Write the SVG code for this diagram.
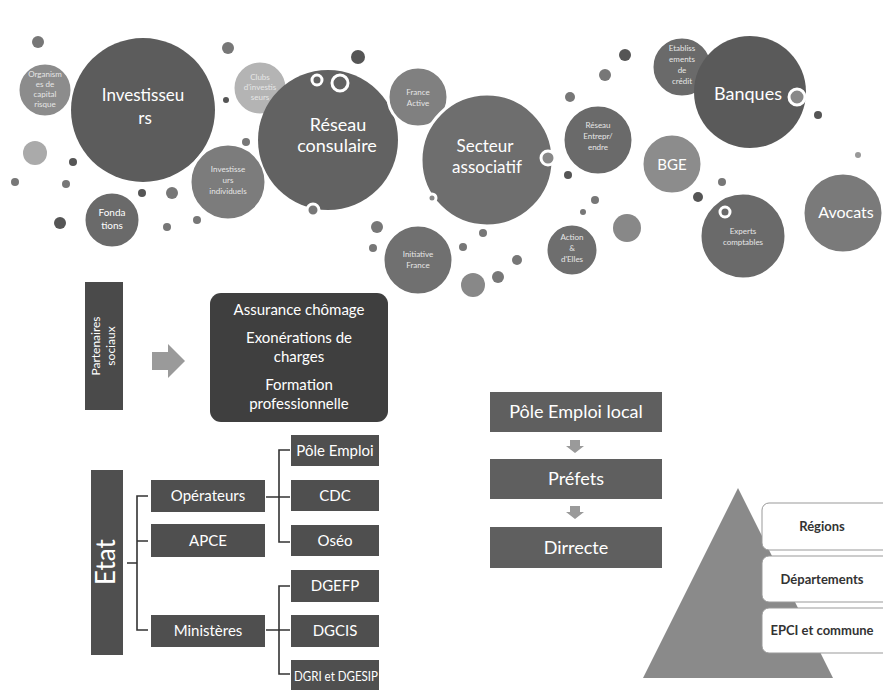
<svg xmlns="http://www.w3.org/2000/svg" width="883" height="690" viewBox="0 0 883 690">
<style>
text{font-family:Lato,"Open Sans","Liberation Sans",sans-serif;fill:#fff;text-anchor:middle}
.big{font-size:17px}
.sm{font-size:8px;fill:#e6e6e6}
.ring{fill:none;stroke:#fff;stroke-width:3}
.bw{stroke:#fff;stroke-width:3}
.box{fill:#4f4f4f}
.bt{font-size:15px}
.ft{font-size:18px}
.pt{font-size:13px;fill:#333;font-weight:bold}
.ln{fill:none;stroke:#333;stroke-width:1.6}
.dot{fill:#777}
.dk{fill:#555}
</style>
<rect width="883" height="690" fill="#fff"/>

<g id="dots">
<circle class="dot" cx="38" cy="42" r="6"/>
<circle class="dot" cx="228" cy="48" r="6"/>
<circle class="dk" cx="226" cy="100" r="3"/>
<circle class="dot" cx="246" cy="142" r="4"/>
<circle fill="#aaa" cx="35" cy="153" r="12"/>
<circle class="dk" cx="73" cy="162" r="4"/>
<circle class="dot" cx="15" cy="182" r="4"/>
<circle class="dot" cx="66" cy="184" r="4"/>
<circle class="dk" cx="142" cy="193" r="4"/>
<circle class="dot" cx="172" cy="193" r="6"/>
<circle class="dk" cx="60" cy="223" r="6"/>
<circle class="dot" cx="167" cy="227" r="4"/>
<circle class="dot" cx="197" cy="220" r="4"/>
<circle class="dk" cx="358" cy="57" r="7"/>
<circle class="dot" cx="377" cy="227" r="6"/>
<circle class="dot" cx="373" cy="248" r="4"/>
<circle class="dot" cx="483" cy="233" r="4"/>
<circle class="dot" cx="463" cy="247" r="4"/>
<circle class="dot" cx="517" cy="260" r="5"/>
<circle class="dot" cx="498" cy="277" r="6"/>
<circle fill="#888" cx="473" cy="285" r="12"/>
<circle class="dk" cx="568" cy="175" r="4"/>
<circle class="dot" cx="595" cy="200" r="4"/>
<circle class="dot" cx="583" cy="212" r="3"/>
<circle fill="#888" cx="627" cy="228" r="14"/>
<circle class="dk" cx="625" cy="55" r="6"/>
<circle class="dot" cx="605" cy="75" r="6"/>
<circle class="dot" cx="570" cy="97" r="5"/>
<circle class="dk" cx="818" cy="115" r="4"/>
<circle class="dot" cx="722" cy="182" r="4"/>
<circle class="dk" cx="698" cy="197" r="5"/>
<circle fill="#999" cx="858" cy="155" r="3"/>
</g>

<g id="organismes">
<circle cx="45" cy="90" r="27" fill="#8c8c8c" class="bw"/>
<text class="sm" x="45" y="77">Organism</text>
<text class="sm" x="45" y="87">es de</text>
<text class="sm" x="45" y="97">capital</text>
<text class="sm" x="45" y="107">risque</text>
</g>
<g id="investisseurs">
<circle cx="143" cy="110" r="72" fill="#5c5c5c"/>
<text class="big" x="143" y="101">Investisseu</text>
<text class="big" x="145" y="124">rs</text>
</g>
<g id="clubs">
<circle cx="260" cy="88" r="27" fill="#b4b4b4" class="bw"/>
<text class="sm" x="260" y="80">Clubs</text>
<text class="sm" x="260" y="90">d'investis</text>
<text class="sm" x="260" y="100">seurs</text>
</g>
<g id="fondations">
<circle cx="112" cy="220" r="28" fill="#6a6a6a" class="bw"/>
<text x="112" y="216" style="font-size:10px">Fonda</text>
<text x="112" y="229" style="font-size:10px">tions</text>
</g>
<g id="indiv">
<circle cx="228" cy="182" r="38" fill="#7c7c7c" class="bw"/>
<text class="sm" x="228" y="172">Investisse</text>
<text class="sm" x="228" y="183">urs</text>
<text class="sm" x="228" y="194">individuels</text>
</g>
<g id="reseau-consulaire">
<circle cx="328" cy="140" r="70" fill="#626262"/>
<circle class="ring" cx="317" cy="80" r="5"/>
<circle class="ring" cx="340" cy="83" r="8"/>
<circle cx="313" cy="210" r="6" fill="#777" class="bw"/>
<text class="big" x="338" y="131" style="font-size:18px">Réseau</text>
<text class="big" x="337" y="152" style="font-size:18px">consulaire</text>
</g>
<g id="france-active">
<circle cx="418" cy="97" r="30" fill="#808080" class="bw"/>
<text class="sm" x="418" y="95">France</text>
<text class="sm" x="418" y="106">Active</text>
</g>
<g id="secteur-associatif">
<circle cx="487" cy="160" r="66" fill="#6e6e6e" class="bw"/>
<circle cx="548" cy="158" r="7" fill="#888" class="bw"/>
<circle cx="432" cy="198" r="4" fill="#888" class="bw"/>
<text class="big" x="485" y="152">Secteur</text>
<text class="big" x="487" y="173">associatif</text>
</g>
<g id="reseau-entreprendre">
<circle cx="598" cy="140" r="35" fill="#6a6a6a" class="bw"/>
<text class="sm" x="598" y="128">Réseau</text>
<text class="sm" x="598" y="139">Entrepr/</text>
<text class="sm" x="598" y="150">endre</text>
</g>
<g id="etablissements">
<circle cx="682" cy="67" r="30" fill="#6a6a6a" class="bw"/>
<text class="sm" x="682" y="51">Etabliss</text>
<text class="sm" x="682" y="62">ements</text>
<text class="sm" x="682" y="73">de</text>
<text class="sm" x="682" y="84">crédit</text>
</g>
<g id="banques">
<circle cx="750" cy="92" r="56" fill="#5a5a5a"/>
<circle cx="797" cy="97" r="8" fill="#888" class="bw"/>
<text class="big" x="748" y="100" style="font-size:18px">Banques</text>
</g>
<g id="bge">
<circle cx="672" cy="164" r="30" fill="#8c8c8c" class="bw"/>
<text x="672" y="170" style="font-size:15px">BGE</text>
</g>
<g id="initiative">
<circle cx="418" cy="260" r="35" fill="#707070" class="bw"/>
<text class="sm" x="418" y="257">Initiative</text>
<text class="sm" x="418" y="268">France</text>
</g>
<g id="action">
<circle cx="572" cy="250" r="26" fill="#6e6e6e" class="bw"/>
<text class="sm" x="572" y="240">Action</text>
<text class="sm" x="572" y="251">&amp;</text>
<text class="sm" x="572" y="262">d'Elles</text>
</g>
<g id="experts">
<circle cx="743" cy="236" r="43" fill="#6a6a6a" class="bw"/>
<circle class="ring" cx="725" cy="212" r="5"/>
<text class="sm" x="743" y="234">Experts</text>
<text class="sm" x="743" y="245">comptables</text>
</g>
<g id="avocats">
<circle cx="843" cy="213" r="40" fill="#7a7a7a" class="bw"/>
<text x="846" y="218" style="font-size:16px">Avocats</text>
</g>

<g id="partenaires">
<rect x="85" y="282" width="38" height="128" fill="#4a4a4a"/>
<text transform="translate(100 346) rotate(-90)" style="font-size:12px">Partenaires</text>
<text transform="translate(115 346) rotate(-90)" style="font-size:12px">sociaux</text>
</g>
<g id="connectors">
<path d="M152 352 H168 V344 L185 361 L168 378 V370 H152 Z" fill="#9a9a9a"/>
<path class="ln" d="M127 563 H137 M148 496 H137 V630 H148 M137 541 H148"/>
<path class="ln" d="M266 497 H290 M290 450 H279 V542 H290"/>
<path class="ln" d="M266 630 H290 M290 586 H279 V674 H290"/>
<path d="M570 440 H580 V446 H584 L575 453 L566 446 H570 Z" fill="#9a9a9a"/>
<path d="M570 506 H580 V512 H584 L575 519 L566 512 H570 Z" fill="#9a9a9a"/>
</g>
<g id="mesures">
<rect x="210" y="293" width="178" height="129" rx="11" fill="#3f3f3f"/>
<text class="bt" x="299" y="315">Assurance chômage</text>
<text class="bt" x="299" y="343">Exonérations de</text>
<text class="bt" x="299" y="362">charges</text>
<text class="bt" x="299" y="390">Formation</text>
<text class="bt" x="299" y="409">professionnelle</text>
</g>
<g id="etat">
<rect x="91" y="470" width="32" height="185" fill="#4f4f4f"/>
<text transform="translate(115 562) rotate(-90)" style="font-size:26px">Etat</text>
</g>
<g id="operateurs"><rect class="box" x="151" y="480" width="114" height="32"/><text class="bt" x="208" y="501">Opérateurs</text></g>
<g id="apce"><rect class="box" x="151" y="524" width="114" height="33"/><text class="bt" x="208" y="546">APCE</text></g>
<g id="ministeres"><rect class="box" x="151" y="615" width="114" height="32"/><text class="bt" x="208" y="636">Ministères</text></g>
<g id="pole-emploi"><rect class="box" x="291" y="435" width="88" height="31"/><text class="bt" x="335" y="456">Pôle Emploi</text></g>
<g id="cdc"><rect class="box" x="291" y="480" width="88" height="31"/><text class="bt" x="335" y="501">CDC</text></g>
<g id="oseo"><rect class="box" x="291" y="525" width="88" height="31"/><text class="bt" x="335" y="546">Oséo</text></g>
<g id="dgefp"><rect class="box" x="291" y="570" width="88" height="32"/><text class="bt" x="335" y="591">DGEFP</text></g>
<g id="dgcis"><rect class="box" x="291" y="615" width="88" height="32"/><text class="bt" x="335" y="636">DGCIS</text></g>
<g id="dgri"><rect class="box" x="291" y="660" width="88" height="30"/><text class="bt" x="336" y="681" style="font-size:14px" textLength="84" lengthAdjust="spacingAndGlyphs">DGRI et DGESIP</text></g>

<g id="pole-emploi-local"><rect x="490" y="392" width="172" height="40" fill="#5f5f5f"/><text class="ft" x="576" y="418">Pôle Emploi local</text></g>
<g id="prefets"><rect x="490" y="459" width="172" height="40" fill="#5f5f5f"/><text class="ft" x="576" y="485">Préfets</text></g>
<g id="dirrecte"><rect x="490" y="527" width="172" height="41" fill="#5f5f5f"/><text class="ft" x="576" y="554">Dirrecte</text></g>

<g id="pyramide">
<path d="M738 488 L833 678 H643 Z" fill="#8a8a8a"/>
</g>
<g id="regions"><rect x="762" y="503" width="130" height="47" rx="7" fill="#fff" stroke="#999"/><text class="pt" x="822" y="531">Régions</text></g>
<g id="departements"><rect x="762" y="556" width="130" height="46" rx="7" fill="#fff" stroke="#999"/><text class="pt" x="822" y="584">Départements</text></g>
<g id="epci"><rect x="762" y="608" width="130" height="45" rx="7" fill="#fff" stroke="#999"/><text class="pt" x="822" y="635">EPCI et commune</text></g>
</svg>
